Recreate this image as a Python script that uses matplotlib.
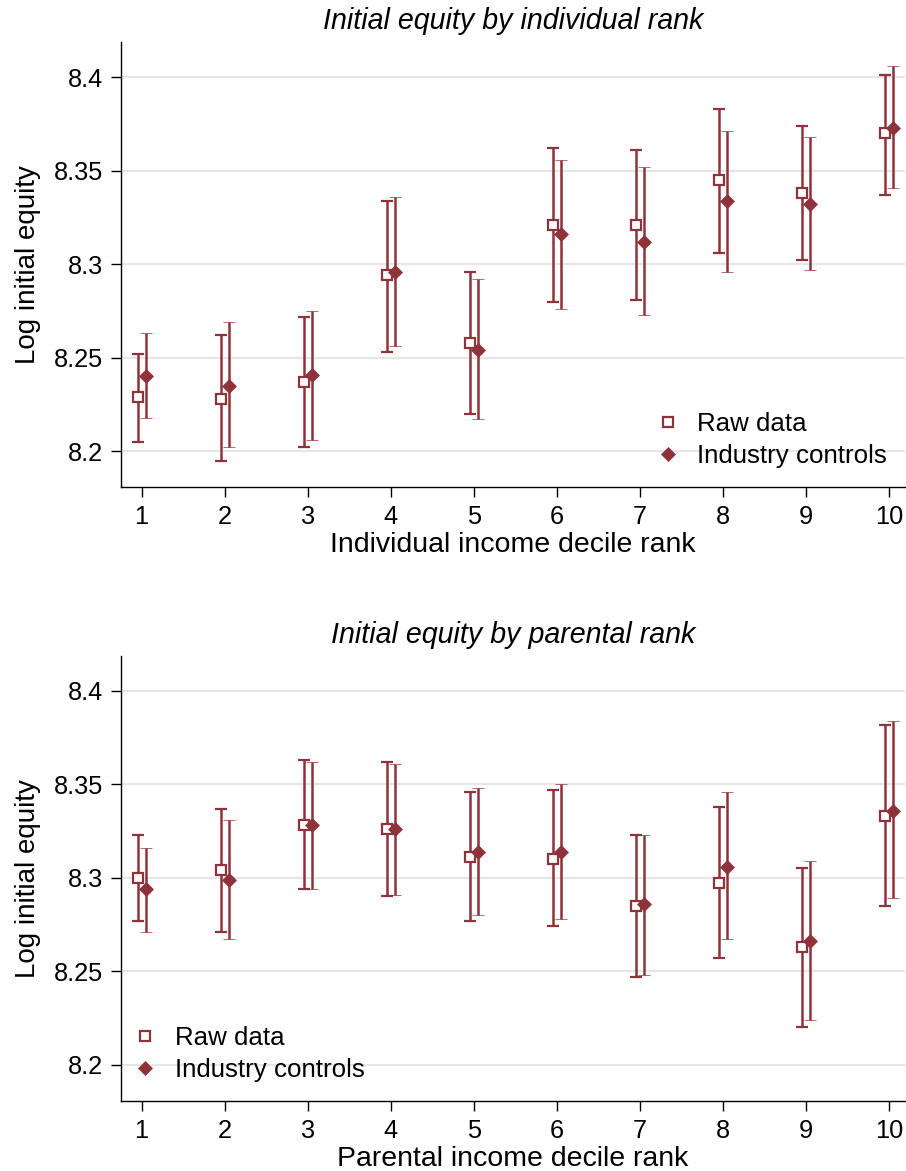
import matplotlib
matplotlib.use("Agg")
import matplotlib.pyplot as plt
from matplotlib.lines import Line2D
import numpy as np

plt.rcParams["font.family"] = ["Liberation Sans", "DejaVu Sans"]

ranks = np.arange(1, 11)
yticks = [8.2, 8.25, 8.3, 8.35, 8.4]
ytick_labels = ["8.2", "8.25", "8.3", "8.35", "8.4"]

# Panel 1: individual income decile rank
ind_raw = [8.229, 8.228, 8.237, 8.294, 8.258, 8.321, 8.321, 8.345, 8.338, 8.370]
ind_raw_lo = [8.205, 8.195, 8.202, 8.253, 8.220, 8.280, 8.281, 8.306, 8.302, 8.337]
ind_raw_hi = [8.252, 8.262, 8.272, 8.334, 8.296, 8.362, 8.361, 8.383, 8.374, 8.401]
ind_ctl = [8.240, 8.235, 8.241, 8.296, 8.254, 8.316, 8.312, 8.334, 8.332, 8.373]
ind_ctl_lo = [8.218, 8.202, 8.206, 8.256, 8.217, 8.276, 8.273, 8.296, 8.297, 8.341]
ind_ctl_hi = [8.263, 8.269, 8.275, 8.336, 8.292, 8.356, 8.352, 8.371, 8.368, 8.406]

# Panel 2: parental income decile rank
par_raw = [8.300, 8.304, 8.328, 8.326, 8.311, 8.310, 8.285, 8.297, 8.263, 8.333]
par_raw_lo = [8.277, 8.271, 8.294, 8.290, 8.277, 8.274, 8.247, 8.257, 8.220, 8.285]
par_raw_hi = [8.323, 8.337, 8.363, 8.362, 8.346, 8.347, 8.323, 8.338, 8.305, 8.382]
par_ctl = [8.294, 8.299, 8.328, 8.326, 8.314, 8.314, 8.286, 8.306, 8.266, 8.336]
par_ctl_lo = [8.271, 8.267, 8.294, 8.291, 8.280, 8.278, 8.248, 8.267, 8.224, 8.289]
par_ctl_hi = [8.316, 8.331, 8.362, 8.361, 8.348, 8.350, 8.323, 8.346, 8.309, 8.384]

series_labels = ["Raw data", "Industry controls"]
RED = "#8E333A"
GRID = "#E6E6E6"

SQ_MS, SQ_MEW = 7.0, 1.6
DM_MS = 7.2

fig = plt.figure(figsize=(9.06, 11.71), dpi=100)
ax_top = fig.add_axes([0.1339, 0.5839, 0.865, 0.3800])
ax_bot = fig.add_axes([0.1339, 0.0600, 0.865, 0.3798])


def draw_panel(ax, raw, raw_lo, raw_hi, ctl, ctl_lo, ctl_hi, title, xlabel):
    raw = np.array(raw); ctl = np.array(ctl)
    ax.errorbar(ranks - 0.05, raw,
                yerr=[raw - np.array(raw_lo), np.array(raw_hi) - raw],
                fmt="s", ms=SQ_MS, mfc="white", mec=RED, mew=SQ_MEW,
                ecolor=RED, elinewidth=1.8, capsize=4.6, capthick=1.8, zorder=3)
    ax.errorbar(ranks + 0.05, ctl,
                yerr=[ctl - np.array(ctl_lo), np.array(ctl_hi) - ctl],
                fmt="D", ms=DM_MS, mfc=RED, mec=RED, mew=0.5,
                ecolor=RED, elinewidth=1.8, capsize=4.6, capthick=1.8, zorder=4)
    ax.set_xlim(0.755, 10.19)
    ax.set_ylim(8.1807, 8.4187)
    ax.set_xticks(ranks)
    ax.set_xticklabels([str(r) for r in ranks])
    ax.set_yticks(yticks)
    ax.set_yticklabels(ytick_labels)
    ax.yaxis.grid(True, color=GRID, lw=1.6, zorder=0)
    ax.set_axisbelow(True)
    for s in ["top", "right"]:
        ax.spines[s].set_visible(False)
    for s in ["left", "bottom"]:
        ax.spines[s].set_linewidth(1.0)
    ax.tick_params(axis="both", labelsize=18.3, length=7, width=1.0, pad=6,
                   direction="out", colors="black")
    ax.set_title(title, fontsize=20.6, style="italic", pad=9.5)
    ax.set_xlabel(xlabel, fontsize=20.5, labelpad=2)
    ax.set_ylabel("Log initial equity", fontsize=20, labelpad=9)


draw_panel(ax_top, ind_raw, ind_raw_lo, ind_raw_hi, ind_ctl, ind_ctl_lo, ind_ctl_hi,
           "Initial equity by individual rank", "Individual income decile rank")
draw_panel(ax_bot, par_raw, par_raw_lo, par_raw_hi, par_ctl, par_ctl_lo, par_ctl_hi,
           "Initial equity by parental rank", "Parental income decile rank")

handles = [
    Line2D([], [], ls="none", marker="s", ms=SQ_MS - 0.5, mfc="white", mec=RED, mew=SQ_MEW),
    Line2D([], [], ls="none", marker="D", ms=DM_MS, mfc=RED, mec=RED, mew=0.5),
]
leg_kw = dict(frameon=False, fontsize=18.6, handlelength=0.8, handletextpad=0.75,
              labelspacing=0.3, borderpad=0, borderaxespad=0)
ax_top.legend(handles, series_labels, loc="lower right",
              bbox_to_anchor=(0.977, 0.043), **leg_kw)
ax_bot.legend(handles, series_labels, loc="lower left",
              bbox_to_anchor=(0.017, 0.043), **leg_kw)

fig.savefig("out.png", dpi=100)
